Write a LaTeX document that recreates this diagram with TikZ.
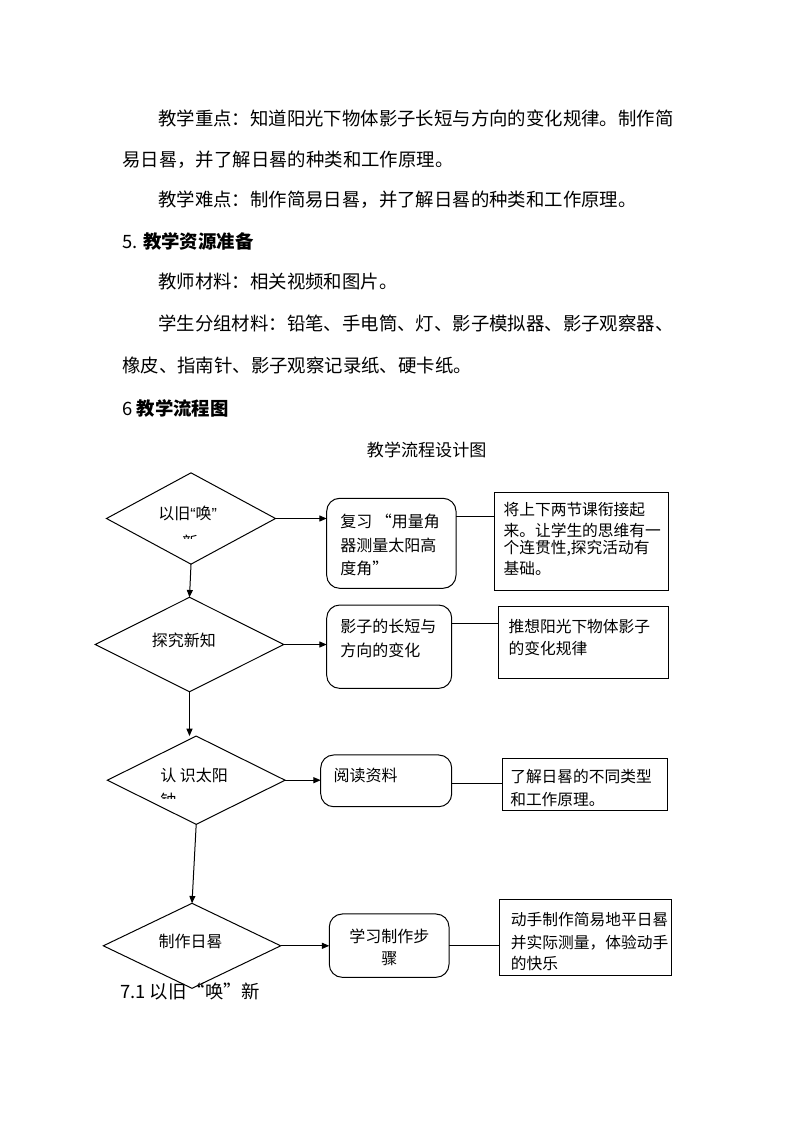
\documentclass[tikz,border=0pt]{standalone}
\usepackage{fontspec}
\setmainfont{Noto Sans CJK SC}
\newfontfamily\latq{Liberation Sans}
\usetikzlibrary{arrows.meta,shapes.geometric}
\begin{document}
\begin{tikzpicture}[x=0.75pt,y=-0.75pt,
  dia/.style={draw, diamond, inner sep=0pt, outer sep=0pt, line width=0.75pt},
  rbox/.style={draw, rectangle, rounded corners=9.75pt, inner sep=0pt, outer sep=0pt, line width=0.75pt},
  nbox/.style={draw, rectangle, inner sep=0pt, outer sep=0pt, line width=0.75pt},
  arr/.style={-{Triangle[length=5.5pt,width=4.5pt]}, line width=0.75pt},
  conn/.style={line width=0.75pt},
  body/.style={anchor=west, inner sep=0pt, font=\fontsize{13.8pt}{16pt}\selectfont},
  txt/.style={anchor=west, inner sep=0pt, font=\fontsize{12pt}{14pt}\selectfont},
  note/.style={anchor=west, inner sep=0pt, font=\fontsize{11.8pt}{14pt}\selectfont}
]
\fill[white] (0,0) rectangle (794,1123);
\useasboundingbox (0,0) rectangle (794,1123);

% ---- body text ----
\node[body] (p1) at (158,118.3) {教学重点：知道阳光下物体影子长短与方向的变化规律。制作简};
\node[body] (p2) at (122,160) {易日晷，并了解日晷的种类和工作原理。};
\node[body] (p3) at (158,200) {教学难点：制作简易日晷，并了解日晷的种类和工作原理。};
\node[body] (p4) at (122,241.7) {5. {\bfseries 教学资源准备}};
\node[body] (p5) at (158,281.7) {教师材料：相关视频和图片。};
\node[body] (p6) at (158,323.3) {学生分组材料：铅笔、手电筒、灯、影子模拟器、影子观察器、};
\node[body] (p7) at (122,365) {橡皮、指南针、影子观察记录纸、硬卡纸。};
\node[body] (p8) at (122,408.3) {6 {\bfseries 教学流程图}};
\node[anchor=center, inner sep=0pt, font=\fontsize{12.8pt}{14pt}\selectfont] (title) at (426.7,450) {教学流程设计图};

% ---- diamonds ----
\node[dia, minimum width=126.75pt, minimum height=68.5pt] (d1) at (191,518.5) {};
\node[dia, minimum width=141.5pt, minimum height=70.8pt] (d2) at (189.5,644.5) {};
\node[dia, minimum width=133.3pt, minimum height=66.2pt] (d3) at (196.2,780.2) {};
\node[dia, minimum width=133pt, minimum height=63.75pt] (d4) at (192,945.8) {};

% ---- rounded boxes ----
\node[rbox, minimum width=97pt, minimum height=67.5pt] (b1) at (391.35,543.3) {};
\node[rbox, minimum width=93.75pt, minimum height=62.5pt] (b2) at (389.2,646.7) {};
\node[rbox, minimum width=98.25pt, minimum height=38.8pt] (b3) at (386.2,780.85) {};
\node[rbox, minimum width=89.8pt, minimum height=47.5pt] (b4) at (389.15,945.65) {};

% ---- note boxes ----
\node[nbox, minimum width=130.7pt, minimum height=73.3pt] (n1) at (581.15,541.15) {};
\node[nbox, minimum width=127pt, minimum height=53.7pt] (n2) at (583.65,642.5) {};
\node[nbox, minimum width=124pt, minimum height=38.8pt] (n3) at (585,784.15) {};
\node[nbox, minimum width=128.8pt, minimum height=57.3pt] (n4) at (585.85,937.5) {};

% ---- diamond texts ----
\node[txt] (d1t) at (158,513) {以旧{\latq “}唤{\latq ”}};
\begin{scope}
  \clip (150,525) rectangle (235,538);
  \node[txt, anchor=center] (d1u) at (190,542) {新};
\end{scope}
\node[txt] (d2t) at (151.7,640) {探究新知};
\node[txt] (d3t) at (160,775) {认 识太阳};
\begin{scope}
  \clip (150,785) rectangle (240,798);
  \node[txt] (d3u) at (160,800) {钟};
\end{scope}
\node[txt] (d4t) at (158.3,941.7) {制作日晷};

% ---- box texts ----
\node[txt] (b1a) at (340,521.7) {复习 “用量角};
\node[txt] (b1b) at (340,545) {器测量太阳高};
\node[txt] (b1c) at (340,568.3) {度角”};
\node[txt] (b2a) at (340,626.7) {影子的长短与};
\node[txt] (b2b) at (340,650) {方向的变化};
\node[txt] (b3a) at (333.3,775) {阅读资料};
\node[txt, anchor=center] (b4a) at (389.3,936.7) {学习制作步};
\node[txt, anchor=center] (b4b) at (389.3,958.3) {骤};

% ---- note texts ----
\node[note] (n1a) at (503.3,510) {将上下两节课衔接起};
\node[note] (n1b) at (503.3,530) {来。让学生的思维有一};
\node[note] (n1c) at (503.3,548.3) {个连贯性,探究活动有};
\node[note] (n1d) at (503.3,568.3) {基础。};
\node[note] (n2a) at (508.3,626.7) {推想阳光下物体影子};
\node[note] (n2b) at (508.3,648.3) {的变化规律};
\node[note] (n3a) at (510,776.7) {了解日晷的不同类型};
\node[note] (n3b) at (510,800) {和工作原理。};
\node[note] (n4a) at (510.7,920) {动手制作简易地平日晷};
\node[note] (n4b) at (510.7,942.3) {并实际测量，体验动手};
\node[note] (n4c) at (510.7,964) {的快乐};

% ---- connectors ----
\draw[arr] (d1.east) -- (d1.east -| b1.west);
\draw[arr] (d2.east) -- (d2.east -| b2.west);
\draw[arr] (d3.east) -- (d3.east -| b3.west);
\draw[arr] (d4.east) -- (d4.east -| b4.west);

\draw[arr] (d1.south) -- (d2.north);
\draw[arr] (d2.south) -- (d2.south |- d3.north);
\draw[arr] (d3.south) -- (d4.north);

\coordinate (l1) at (0,516.7);
\coordinate (l2) at (0,623.3);
\coordinate (l3) at (0,783.3);
\coordinate (l4) at (0,945);
\draw[conn] (b1.east |- l1) -- (n1.west |- l1);
\draw[conn] (b2.east |- l2) -- (n2.west |- l2);
\draw[conn] (b3.east |- l3) -- (n3.west |- l3);
\draw[conn] (b4.east |- l4) -- (n4.west |- l4);

% ---- trailing heading ----
\node[body] (p9) at (120,991.7) {7.1 以旧“唤”新};
\end{tikzpicture}
\end{document}
